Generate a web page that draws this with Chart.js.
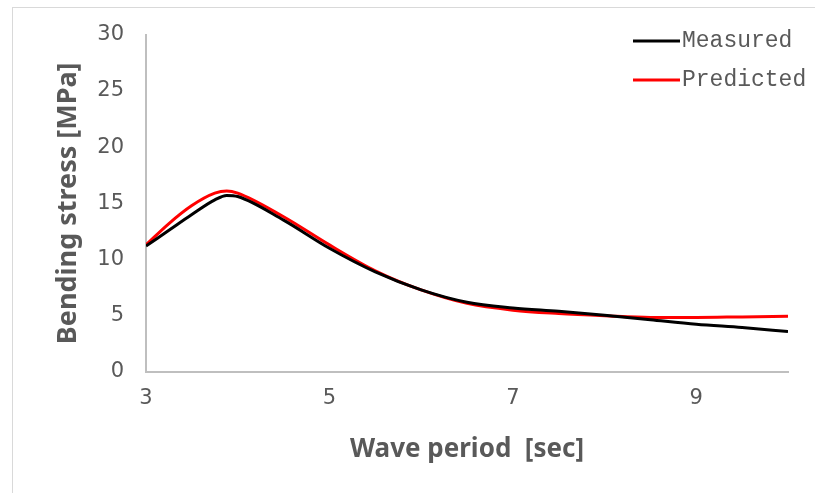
<!DOCTYPE html>
<html>
<head>
<meta charset="utf-8">
<script src="https://cdn.jsdelivr.net/npm/chart.js@4"></script>
<style>
  html, body { margin: 0; padding: 0; background: #fff; overflow: hidden; }
  #frame { position: absolute; left: 12px; top: 7px; width: 900px; height: 600px; border: 1px solid #d9d9d9; }
  #wrap { position: absolute; left: 0; top: 0; width: 815px; height: 493px; }
</style>
</head>
<body>
<div id="frame"></div>
<div id="wrap"><canvas id="chart" width="815" height="493"></canvas></div>
<script>
// wave period [sec]
const periods = [3, 3.25, 3.5, 3.75, 3.88, 4, 4.5, 5, 5.5, 6, 6.5, 7, 7.5, 8, 8.5, 9, 9.5, 10];
// bending stress [MPa]
const measured  = [11.2, 12.6, 14.0, 15.3, 15.7, 15.6, 13.5, 11.0, 8.9, 7.3, 6.2, 5.7, 5.4, 5.05, 4.65, 4.25, 3.95, 3.6];
const predicted = [11.3, 13.2, 14.8, 15.9, 16.1, 15.9, 13.8, 11.3, 9.0, 7.3, 6.1, 5.5, 5.2, 5.0, 4.85, 4.85, 4.9, 4.95];
const xTicks = [3, 5, 7, 9];
const yTicks = [0, 5, 10, 15, 20, 25, 30];

const toPoints = vals => periods.map((p, i) => ({ x: p, y: vals[i] }));

// legend drawn inside the plot area, top-right
const insideLegend = {
    id: "insideLegend",
    afterDraw(chart) {
        const ctx = chart.ctx;
        ctx.save();
        ctx.font = "23px 'Liberation Mono'";
        ctx.textBaseline = "middle";
        chart.data.datasets.forEach((ds, i) => {
            const y = 41 + i * 39;
            ctx.strokeStyle = ds.borderColor;
            ctx.lineWidth = 3;
            ctx.beginPath();
            ctx.moveTo(633, y);
            ctx.lineTo(680, y);
            ctx.stroke();
            ctx.fillStyle = "#595959";
            ctx.fillText(ds.label, 682, y);
        });
        ctx.restore();
    }
};

const ctx = document.getElementById("chart").getContext("2d");
new Chart(ctx, {
    type: "line",
    data: {
        datasets: [
            {
                label: "Measured",
                data: toPoints(measured),
                borderColor: "#000000",
                borderWidth: 3,
                pointRadius: 0,
                cubicInterpolationMode: "monotone"
            },
            {
                label: "Predicted",
                data: toPoints(predicted),
                borderColor: "#ff0000",
                borderWidth: 3,
                pointRadius: 0,
                cubicInterpolationMode: "monotone"
            }
        ]
    },
    options: {
        responsive: false,
        animation: false,
        layout: { padding: { top: 33, right: 27, left: 0, bottom: 0 } },
        scales: {
            x: {
                type: "linear",
                min: 3,
                max: 10,
                afterBuildTicks: scale => { scale.ticks = xTicks.map(v => ({ value: v })); },
                afterFit: scale => { scale.height = 493 - 372; },
                grid: { display: false, drawTicks: false },
                border: { color: "#bfbfbf", width: 2 },
                ticks: {
                    padding: 14,
                    color: "#595959",
                    font: { family: "'DejaVu Sans'", size: 21 },
                    maxRotation: 0
                },
                title: {
                    display: true,
                    text: "Wave period  [sec]",
                    color: "#595959",
                    font: { family: "'Noto Sans'", size: 26, weight: "bold" },
                    padding: { top: 0, bottom: 28 }
                }
            },
            y: {
                min: 0,
                max: 30,
                afterBuildTicks: scale => { scale.ticks = yTicks.map(v => ({ value: v })); },
                afterFit: scale => { scale.width = 146; },
                grid: { display: false, drawTicks: false },
                border: { color: "#bfbfbf", width: 2 },
                ticks: {
                    padding: 22,
                    color: "#595959",
                    font: { family: "'DejaVu Sans'", size: 21 }
                },
                title: {
                    display: true,
                    text: "Bending stress [MPa]",
                    color: "#595959",
                    font: { family: "'Noto Sans'", size: 27, weight: "bold" },
                    padding: { top: 52, bottom: 0 }
                }
            }
        },
        plugins: {
            legend: { display: false },
            tooltip: { enabled: false }
        }
    },
    plugins: [insideLegend]
});
</script>
</body>
</html>
